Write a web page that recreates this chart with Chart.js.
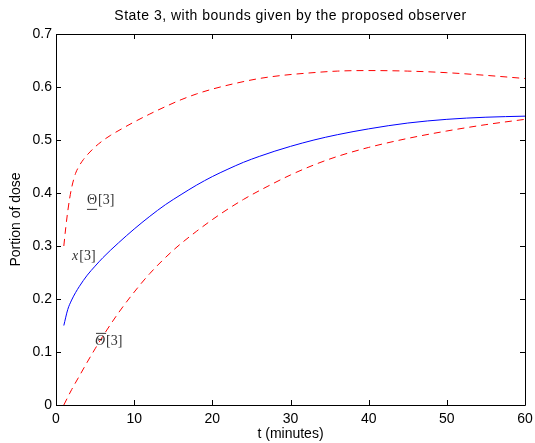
<!DOCTYPE html>
<html>
<head>
<meta charset="utf-8">
<script src="https://cdn.jsdelivr.net/npm/chart.js@4/dist/chart.umd.min.js"></script>
<style>
html,body{margin:0;padding:0;background:#fff;}
#wrap{width:535px;height:443px;position:relative;}
</style>
</head>
<body>
<div id="wrap"><canvas id="c" width="535" height="443"></canvas></div>
<script>
// time points (minutes)
const tState = [1, 1.5, 2, 2.5, 3, 4, 5, 6, 8, 10, 12, 14, 16, 18, 20, 22, 24, 26, 28, 30, 33, 36, 40, 45, 50, 55, 60];
const xState = [0.150, 0.180, 0.198, 0.212, 0.224, 0.245, 0.262, 0.278, 0.306, 0.332, 0.356, 0.378, 0.397, 0.415, 0.431, 0.445, 0.458, 0.469, 0.479, 0.488, 0.500, 0.510, 0.521, 0.532, 0.539, 0.543, 0.545];

const tUpper = [1, 1.25, 1.5, 1.75, 2, 2.25, 2.5, 3, 3.5, 4, 5, 6, 7, 8.4, 10, 12, 14, 16, 18, 20, 23, 26, 29, 32, 36, 40, 45, 50, 55, 60];
const upperBound = [0.300, 0.335, 0.365, 0.390, 0.410, 0.425, 0.437, 0.452, 0.463, 0.472, 0.487, 0.499, 0.509, 0.521, 0.534, 0.549, 0.563, 0.576, 0.587, 0.596, 0.607, 0.616, 0.622, 0.626, 0.630, 0.631, 0.630, 0.627, 0.622, 0.616];

const tLower = [1, 2, 3, 4, 5, 6, 8, 10, 12, 15, 18, 21, 24, 27, 30, 33, 36, 40, 45, 50, 55, 60];
const lowerBound = [0.0, 0.029, 0.055, 0.081, 0.106, 0.130, 0.174, 0.213, 0.248, 0.292, 0.328, 0.360, 0.388, 0.412, 0.434, 0.453, 0.469, 0.486, 0.503, 0.517, 0.529, 0.539];

const xTicks = [0, 10, 20, 30, 40, 50, 60];
const yTicks = [0, 0.1, 0.2, 0.3, 0.4, 0.5, 0.6, 0.7];
const yTickLabels = ['0', '0.1', '0.2', '0.3', '0.4', '0.5', '0.6', '0.7'];

const titleText = 'State 3, with bounds given by the proposed observer';

// curve annotations: [text, t, value, decoration]
const curveLabels = [
  ['Θ', 3.96, 0.387, 'under'],
  ['x', 2.05, 0.280, 'italic'],
  ['Θ', 4.99, 0.121, 'over']
];

function pts(ts, vs){ return ts.map((t,i)=>({x:t, y:vs[i]})); }

const SANS = '"Liberation Sans", Arial, Helvetica, sans-serif';

const boxPlugin = {
  id: 'box',
  afterDraw(chart){
    const {ctx, chartArea:a, scales:{x, y}} = chart;
    ctx.save();
    // title centred over the plot area
    ctx.fillStyle = '#000';
    ctx.font = '14px ' + SANS;
    ctx.textAlign = 'center';
    ctx.textBaseline = 'middle';
    try { ctx.letterSpacing = '0.5px'; } catch(e) {}
    ctx.fillText(titleText, (a.left + a.right) / 2, 16);
    try { ctx.letterSpacing = '0px'; } catch(e) {}

    ctx.strokeStyle = '#000';
    ctx.lineWidth = 1;
    ctx.beginPath();
    ctx.rect(Math.round(a.left)+0.5, Math.round(a.top)+0.5, Math.round(a.right-a.left), Math.round(a.bottom-a.top));
    ctx.stroke();
    const L = 5;
    ctx.beginPath();
    xTicks.forEach(v=>{
      const px = Math.round(x.getPixelForValue(v))+0.5;
      ctx.moveTo(px, a.bottom); ctx.lineTo(px, a.bottom-L);
      ctx.moveTo(px, a.top); ctx.lineTo(px, a.top+L);
    });
    yTicks.forEach(v=>{
      const py = Math.round(y.getPixelForValue(v))+0.5;
      ctx.moveTo(a.left, py); ctx.lineTo(a.left+L, py);
      ctx.moveTo(a.right, py); ctx.lineTo(a.right-L, py);
    });
    ctx.stroke();

    // curve labels
    ctx.fillStyle = '#333';
    ctx.strokeStyle = '#333';
    ctx.textBaseline = 'middle';
    ctx.textAlign = 'left';
    curveLabels.forEach(([txt, t, v, deco])=>{
      const px = x.getPixelForValue(t);
      const py = y.getPixelForValue(v);
      const italic = (deco === 'italic' || deco === 'over');
      ctx.font = (italic ? 'italic ' : '') + '14px "Liberation Serif"';
      ctx.fillText(txt, px, py);
      const w = ctx.measureText(txt).width;
      ctx.font = '14px "Liberation Serif"';
      ctx.fillText('[3]', px + w + 1, py);
      ctx.lineWidth = 1;
      if (deco === 'under') {
        ctx.beginPath(); ctx.moveTo(px, py+9.5); ctx.lineTo(px+w, py+9.5); ctx.stroke();
      } else if (deco === 'over') {
        ctx.beginPath(); ctx.moveTo(px+1, py-7.5); ctx.lineTo(px+w+1, py-7.5); ctx.stroke();
      }
    });
    ctx.restore();
  }
};

new Chart(document.getElementById('c'), {
  type: 'scatter',
  data: {
    datasets: [
      { label: 'x[3]', data: pts(tState, xState), showLine: true, borderColor: '#0000ff', borderWidth: 1, pointRadius: 0, cubicInterpolationMode: 'monotone' },
      { label: 'upper', data: pts(tUpper, upperBound), showLine: true, borderColor: '#ff0000', borderWidth: 1, borderDash: [7,5], pointRadius: 0, cubicInterpolationMode: 'monotone' },
      { label: 'lower', data: pts(tLower, lowerBound), showLine: true, borderColor: '#ff0000', borderWidth: 1, borderDash: [7,5], pointRadius: 0, cubicInterpolationMode: 'monotone' }
    ]
  },
  options: {
    responsive: false,
    animation: false,
    devicePixelRatio: 1,
    layout: { padding: { left: 0, right: 10, top: 34, bottom: 0 } },
    plugins: {
      legend: { display: false },
      tooltip: { enabled: false },
      title: { display: false }
    },
    scales: {
      x: {
        type: 'linear', min: 0, max: 60,
        afterFit(s){ s.height = 38; s.paddingLeft = 0; s.paddingRight = 0; },
        afterBuildTicks(s){ s.ticks = xTicks.map(v=>({value:v})); },
        grid: { display: false, drawTicks: false },
        border: { display: false },
        ticks: { color: '#000', padding: 6, font: { family: SANS, size: 14 }, maxRotation: 0, autoSkip: false },
        title: { display: true, text: 't (minutes)', color: '#000', font: { family: SANS, size: 14 }, padding: { top: 0, bottom: 0 } }
      },
      y: {
        type: 'linear', min: 0, max: 0.7,
        afterFit(s){ s.width = 56; s.paddingTop = 0; s.paddingBottom = 0; },
        afterBuildTicks(s){ s.ticks = yTicks.map(v=>({value:v})); },
        grid: { display: false, drawTicks: false },
        border: { display: false },
        ticks: { color: '#000', padding: 4, font: { family: SANS, size: 14 }, autoSkip: false,
          callback: (v)=>{ const i = yTicks.findIndex(t=>Math.abs(t-v)<1e-9); return i>=0 ? yTickLabels[i] : ''; } },
        title: { display: true, text: 'Portion of dose', color: '#000', font: { family: SANS, size: 14 }, padding: { top: 8, bottom: 0 } }
      }
    }
  },
  plugins: [boxPlugin]
});
</script>
</body>
</html>
